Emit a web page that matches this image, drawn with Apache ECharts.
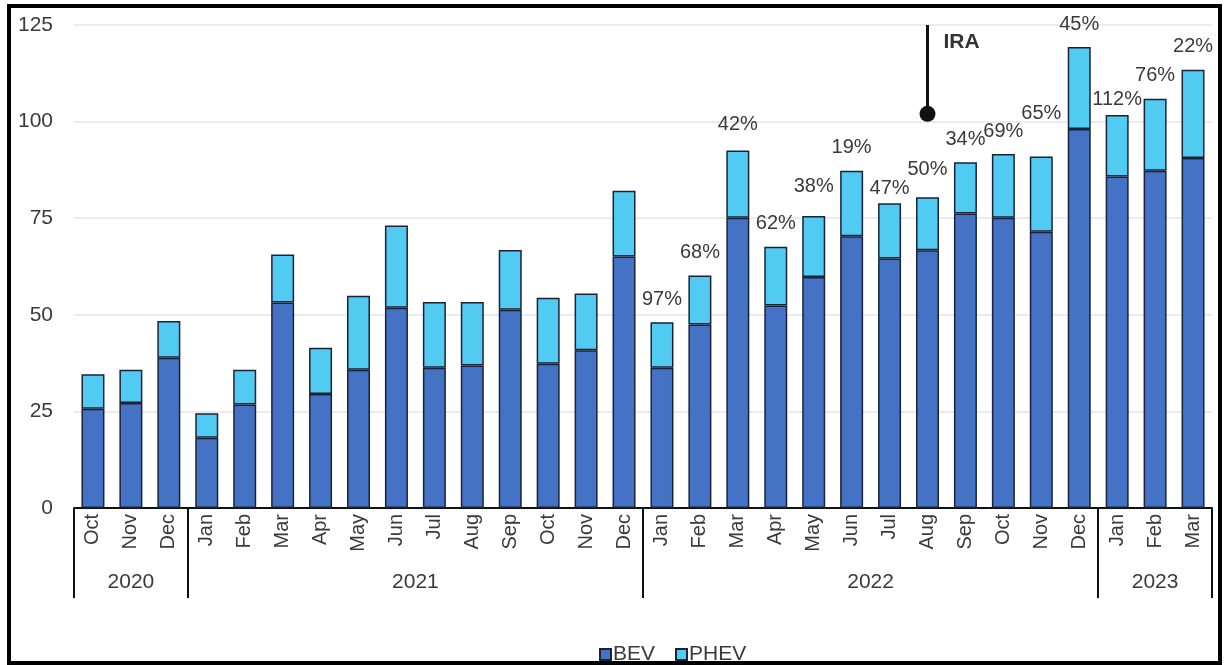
<!DOCTYPE html>
<html>
<head>
<meta charset="utf-8">
<title>Monthly EV sales: BEV and PHEV</title>
<script src="https://cdn.jsdelivr.net/npm/echarts@6/dist/echarts.min.js"></script>
<style>
  html, body { margin: 0; padding: 0; background: #ffffff; }
  #chart { width: 1226px; height: 665px; }
</style>
</head>
<body>
<div id="chart"></div>
<script>
// Month labels, one per bar (Oct 2020 to Mar 2023)
const months = ['Oct', 'Nov', 'Dec',
  'Jan', 'Feb', 'Mar', 'Apr', 'May', 'Jun', 'Jul', 'Aug', 'Sep', 'Oct', 'Nov', 'Dec',
  'Jan', 'Feb', 'Mar', 'Apr', 'May', 'Jun', 'Jul', 'Aug', 'Sep', 'Oct', 'Nov', 'Dec',
  'Jan', 'Feb', 'Mar'];

// Year groups under the month labels: [label, number of months]
const yearGroups = [['2020', 3], ['2021', 12], ['2022', 12], ['2023', 3]];

// Battery electric vehicles (thousands)
const bev = [25.7, 27.2, 38.9,
  18.2, 26.8, 53.2, 29.5, 35.8, 51.8, 36.3, 36.9, 51.3, 37.3, 40.8, 65.1,
  36.3, 47.5, 75.1, 52.4, 59.8, 70.3, 64.6, 66.7, 76.2, 75.1, 71.5, 98.1,
  85.8, 87.3, 90.6];

// Plug-in hybrid vehicles (thousands), stacked on top of BEV
const phev = [8.9, 8.6, 9.5,
  6.3, 9.0, 12.4, 12.0, 19.1, 21.3, 17.0, 16.4, 15.5, 17.1, 14.7, 17.0,
  11.8, 12.7, 17.4, 15.2, 15.8, 17.0, 14.3, 13.7, 13.3, 16.5, 19.5, 21.2,
  15.9, 18.6, 22.8];

// Year-over-year growth of total sales, shown above the 2022-2023 bars
const growth = [null, null, null,
  null, null, null, null, null, null, null, null, null, null, null, null,
  '97%', '68%', '42%', '62%', '38%', '19%', '47%', '50%', '34%', '69%', '65%', '45%',
  '112%', '76%', '22%'];

// Inflation Reduction Act marker
const iraEvent = { label: 'IRA', year: '2022', month: 'Aug', from: 102, to: 125 };

// y-axis ticks
const yTicks = { min: 0, max: 125, step: 25 };

// ---- styling ----
const FONT = '"Liberation Sans", Arial, sans-serif';
const TEXT = '#3a3a3a';
const LABEL_GAP = 13;
// growth labels lifted or lowered so neighbours don't collide
const labelGapFor = { '2022-May': 19, '2022-Jul': 5, '2022-Aug': 18, '2022-Nov': 33, '2023-Jan': 6, '2022-Mar': 16 };

// Year of every bar
const barYear = [];
yearGroups.forEach(([y, n]) => { for (let k = 0; k < n; k++) barYear.push(y); });

// Index of the bar where the IRA marker sits
const iraIdx = months.findIndex((m, i) => m === iraEvent.month && barYear[i] === iraEvent.year);

// Year axis on half-month points: point k sits at k/2 months from the left edge
const nHalf = months.length * 2;
const yearAxisData = new Array(nHalf + 1).fill('');
const yearLabelPts = new Set();
const yearTickPts = new Set([0]);
{
  let start = 0;
  for (const [y, n] of yearGroups) {
    const mid = start * 2 + n;          // centre of the group, in half months
    yearAxisData[mid] = y;
    yearLabelPts.add(mid);
    start += n;
    yearTickPts.add(start * 2);
  }
}

// PHEV items carry the growth label distance for their bar
const phevItems = phev.map((v, i) => {
  const key = barYear[i] + '-' + months[i];
  const gap = labelGapFor[key];
  return gap === undefined ? v : { value: v, label: { distance: gap } };
});

const chart = echarts.init(document.getElementById('chart'), null, { renderer: 'canvas' });

const barBorder = { borderColor: '#1b2238', borderWidth: 1.5 };

chart.setOption({
  animation: false,
  backgroundColor: '#ffffff',
  textStyle: { fontFamily: FONT },
  grid: { left: 74, right: 14, top: 25, bottom: 157, containLabel: false },
  legend: {
    data: ['BEV', 'PHEV'],
    left: 594,
    top: 639,
    icon: 'rect',
    itemWidth: 11,
    itemHeight: 11,
    itemGap: 20,
    textStyle: { fontFamily: FONT, fontSize: 21, color: TEXT, padding: [0, 0, 0, -3] }
  },
  xAxis: [
    {
      type: 'category',
      data: months,
      position: 'bottom',
      axisLine: { show: true, lineStyle: { color: '#111111', width: 2 } },
      axisTick: { show: false },
      axisLabel: {
        rotate: 90,
        margin: 6,
        interval: 0,
        fontFamily: FONT,
        fontSize: 20,
        color: TEXT
      },
      splitLine: { show: false }
    },
    {
      type: 'category',
      data: yearAxisData,
      position: 'bottom',
      boundaryGap: false,
      axisLine: { show: false },
      axisTick: {
        show: true,
        length: 90,
        interval: (i) => yearTickPts.has(i),
        lineStyle: { color: '#111111', width: 2 }
      },
      axisLabel: {
        interval: (i) => yearLabelPts.has(i),
        margin: 64,
        fontFamily: FONT,
        fontSize: 21,
        color: TEXT
      },
      splitLine: { show: false }
    }
  ],
  yAxis: {
    type: 'value',
    min: yTicks.min,
    max: yTicks.max,
    interval: yTicks.step,
    axisLine: { show: false },
    axisTick: { show: false },
    axisLabel: { margin: 21, fontFamily: FONT, fontSize: 21, color: TEXT },
    splitLine: { lineStyle: { color: '#e4e4e4', width: 1.5 } }
  },
  series: [
    {
      name: 'BEV',
      type: 'bar',
      stack: 'sales',
      xAxisIndex: 0,
      barWidth: 23,
      data: bev,
      itemStyle: Object.assign({ color: '#4472c4' }, barBorder)
    },
    {
      name: 'PHEV',
      type: 'bar',
      stack: 'sales',
      xAxisIndex: 0,
      barWidth: 23,
      data: phevItems,
      itemStyle: Object.assign({ color: '#52cbf3' }, barBorder),
      label: {
        show: true,
        position: 'top',
        distance: LABEL_GAP,
        fontFamily: FONT,
        fontSize: 20,
        color: TEXT,
        formatter: (p) => growth[p.dataIndex] || ''
      }
    },
    {
      // IRA marker: vertical stem and a bold caption
      name: iraEvent.label,
      type: 'line',
      xAxisIndex: 0,
      data: [],
      markLine: {
        silent: true,
        symbol: ['none', 'none'],
        label: { show: false },
        lineStyle: { color: '#111111', width: 3, type: 'solid', opacity: 1 },
        data: [[{ coord: [iraIdx, iraEvent.from] }, { coord: [iraIdx, iraEvent.to] }]]
      },
      markPoint: {
        silent: true,
        data: [
          {
            coord: [iraIdx, iraEvent.from],
            symbol: 'circle',
            symbolSize: 16,
            itemStyle: { color: '#111111', opacity: 1 },
            label: { show: false }
          },
          {
            coord: [iraIdx, iraEvent.to - 4.5],
            symbol: 'circle',
            symbolSize: 0,
            label: {
              show: true,
              position: 'right',
              distance: 16,
              formatter: iraEvent.label,
              fontFamily: FONT,
              fontSize: 21,
              fontWeight: 'bold',
              color: '#333333'
            }
          }
        ]
      }
    }
  ],
  graphic: [
    {
      type: 'rect',
      silent: true,
      shape: { x: 9, y: 6, width: 1211, height: 657 },
      style: { fill: null, stroke: '#000000', lineWidth: 4 },
      z: 100
    }
  ]
});
</script>
</body>
</html>
